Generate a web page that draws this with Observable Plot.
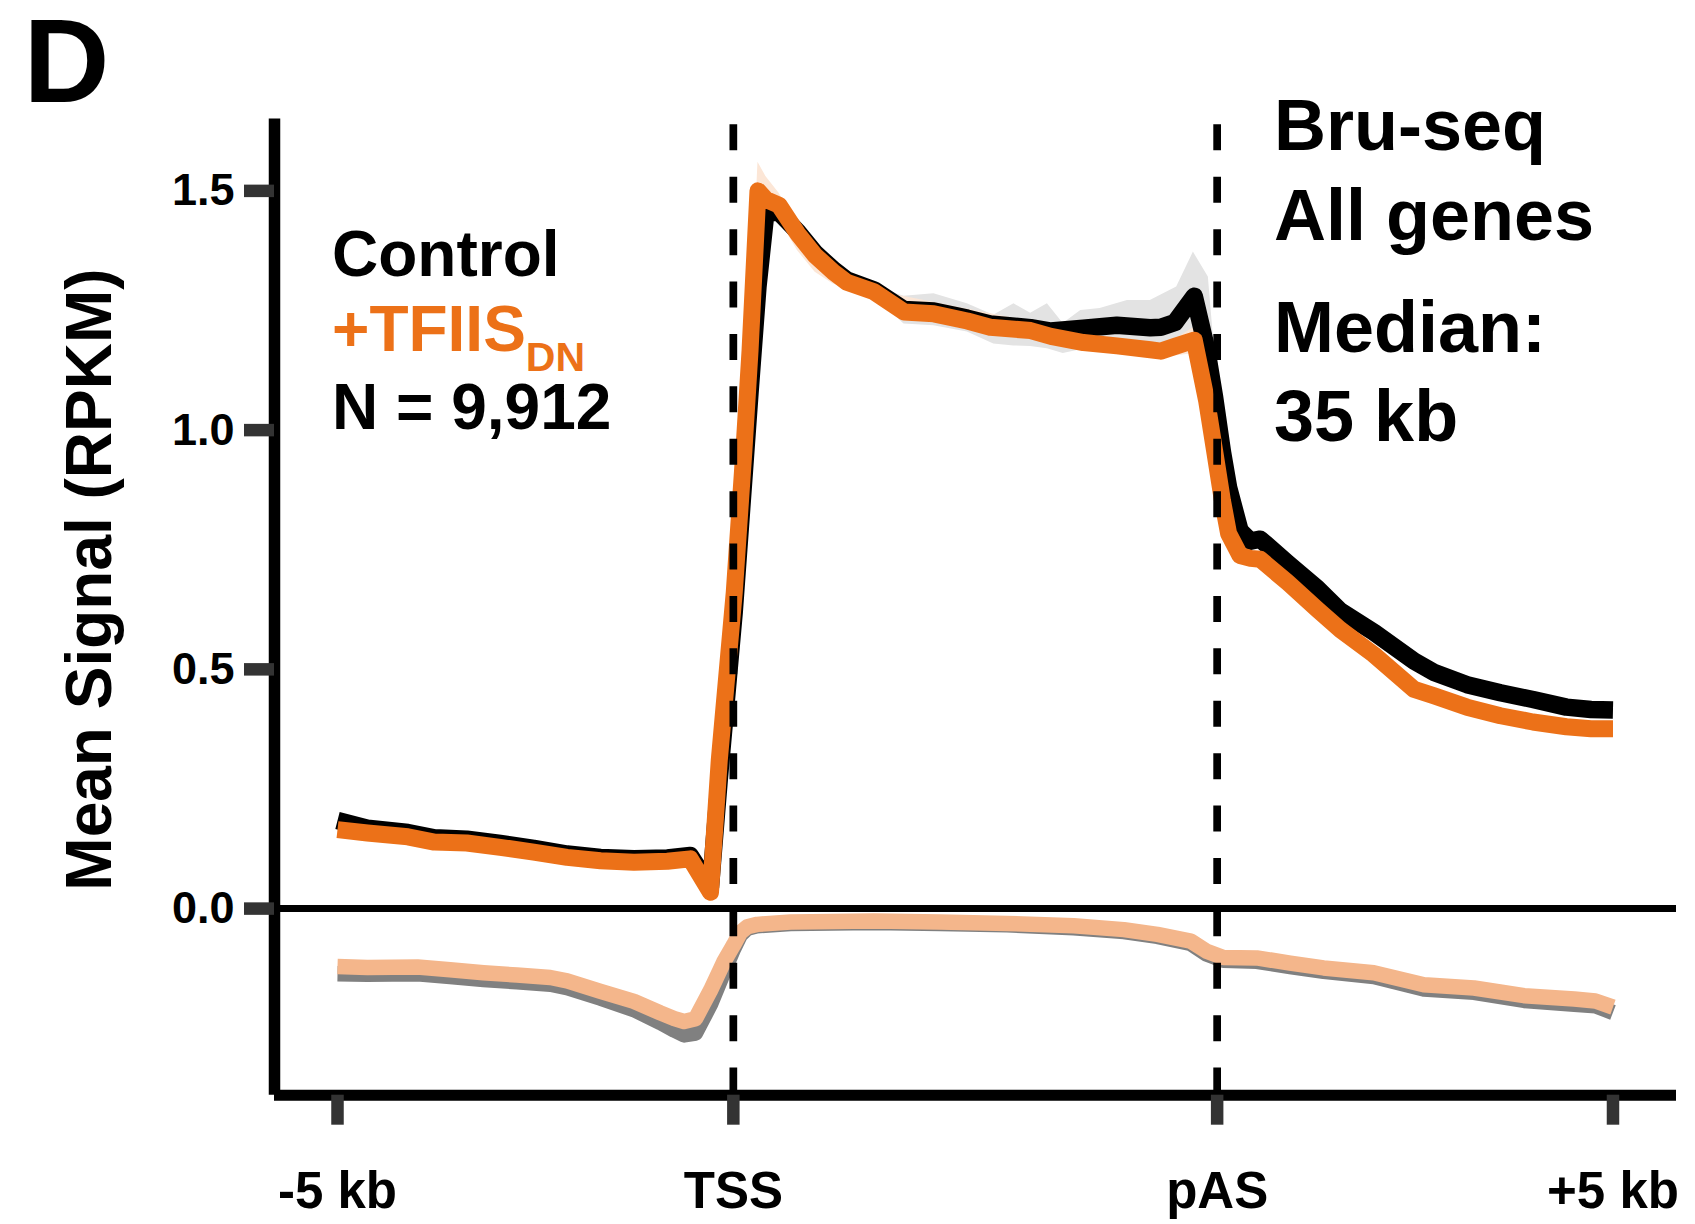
<!DOCTYPE html>
<html>
<head>
<meta charset="utf-8">
<script src="https://cdn.jsdelivr.net/npm/d3@7"></script>
<script src="https://cdn.jsdelivr.net/npm/@observablehq/plot@0.6"></script>
<style>
  html, body { margin: 0; padding: 0; background: #fff; }
  #chart { position: absolute; left: 0; top: 0; }
</style>
</head>
<body>
<div id="chart"></div>
<script>
// ---- data (bin positions: -5 kb = 0, TSS = 45, pAS = 100, +5 kb = 145) ----
const xTickBins = [0, 45, 100, 145];
const xTickLabels = ["-5 kb", "TSS", "pAS", "+5 kb"];
const yTicks = [0, 0.5, 1.0, 1.5];

const senseBins = [0, 3.4, 8.0, 11.0, 14.7, 18.5, 22.3, 26.1, 29.9, 33.7, 37.5, 40.1, 42.4, 43.4, 45.1, 46.2, 46.9, 47.8, 48.7, 50.2, 52.3, 54.3, 56.4, 57.9, 61.0, 64.4, 67.8, 71.6, 74.2, 78.8, 81.1, 84.8, 88.6, 92.4, 93.6, 95.2, 97.4, 98.8, 99.7, 100.6, 101.3, 102.6, 103.8, 104.9, 108.0, 111.4, 114.0, 117.8, 122.4, 124.6, 128.4, 132.2, 135.9, 139.7, 142.5, 145];
const controlSense = [0.184, 0.168, 0.159, 0.148, 0.145, 0.136, 0.126, 0.114, 0.107, 0.104, 0.106, 0.111, 0.045, 0.27, 0.62, 0.90, 1.08, 1.30, 1.455, 1.455, 1.415, 1.370, 1.335, 1.314, 1.293, 1.252, 1.249, 1.234, 1.222, 1.214, 1.207, 1.213, 1.219, 1.214, 1.215, 1.225, 1.280, 1.17, 1.07, 0.955, 0.88, 0.79, 0.768, 0.772, 0.722, 0.669, 0.622, 0.578, 0.517, 0.494, 0.468, 0.451, 0.437, 0.421, 0.416, 0.415];
const tfiisSense = [0.165, 0.158, 0.150, 0.139, 0.137, 0.128, 0.118, 0.107, 0.100, 0.097, 0.099, 0.104, 0.034, 0.31, 0.66, 0.957, 1.167, 1.500, 1.482, 1.470, 1.411, 1.365, 1.330, 1.309, 1.289, 1.247, 1.243, 1.228, 1.215, 1.208, 1.196, 1.183, 1.176, 1.168, 1.165, 1.175, 1.188, 1.062, 0.958, 0.853, 0.784, 0.738, 0.732, 0.730, 0.682, 0.625, 0.583, 0.531, 0.458, 0.445, 0.421, 0.403, 0.390, 0.380, 0.376, 0.376];

const antiBins = [0, 3.4, 9.1, 12.8, 16.6, 20.4, 24.2, 26.1, 29.9, 33.7, 36.7, 38.3, 39.4, 40.7, 42.4, 43.9, 45.0, 45.8, 46.6, 47.7, 51.5, 61.0, 68.5, 76.1, 83.7, 89.4, 93.2, 97.0, 98.8, 100.7, 104.5, 108.3, 112.1, 117.8, 123.5, 129.2, 134.9, 140.6, 143, 145];
const controlAnti = [-0.136, -0.137, -0.136, -0.142, -0.148, -0.153, -0.158, -0.165, -0.187, -0.211, -0.238, -0.254, -0.264, -0.260, -0.200, -0.133, -0.085, -0.055, -0.041, -0.036, -0.031, -0.029, -0.031, -0.034, -0.040, -0.048, -0.058, -0.073, -0.095, -0.108, -0.110, -0.121, -0.131, -0.142, -0.168, -0.175, -0.192, -0.200, -0.203, -0.217];
const tfiisAnti = [-0.121, -0.123, -0.122, -0.128, -0.134, -0.139, -0.144, -0.151, -0.173, -0.194, -0.218, -0.230, -0.236, -0.230, -0.171, -0.112, -0.077, -0.050, -0.038, -0.033, -0.028, -0.026, -0.028, -0.031, -0.036, -0.044, -0.054, -0.068, -0.089, -0.102, -0.103, -0.114, -0.124, -0.134, -0.159, -0.166, -0.182, -0.189, -0.193, -0.206];

// confidence bands
const ctrlBandBins = [50.2, 52.3, 57.9, 61.0, 64.4, 67.8, 71.6, 74.6, 76.9, 78.8, 80.7, 82.5, 84.5, 86.7, 89.8, 92.4, 95.4, 97.3, 99.0, 100.6];
const ctrlBandLo = [1.445, 1.405, 1.305, 1.280, 1.222, 1.218, 1.205, 1.180, 1.176, 1.175, 1.170, 1.160, 1.168, 1.174, 1.175, 1.170, 1.180, 1.200, 1.140, 0.940];
const ctrlBandHi = [1.465, 1.425, 1.325, 1.300, 1.280, 1.285, 1.264, 1.240, 1.264, 1.244, 1.264, 1.223, 1.250, 1.254, 1.271, 1.271, 1.299, 1.372, 1.320, 0.970];
const tfiisBandBins = [45.1, 46.9, 47.8, 48.7, 50.2, 52.3, 54.3, 56.4, 57.9, 61.0, 93.6, 95.2, 97.4, 98.8];
const tfiisBandLo = [0.64, 1.13, 1.45, 1.43, 1.44, 1.375, 1.330, 1.305, 1.298, 1.284, 1.150, 1.155, 1.160, 1.040];
const tfiisBandHi = [0.68, 1.20, 1.56, 1.53, 1.495, 1.428, 1.380, 1.345, 1.318, 1.292, 1.172, 1.190, 1.215, 1.085];

// ---- tables ----
const rows = (xs, ys) => xs.map((x, i) => ({x, y: ys[i]}));
const band = (xs, lo, hi) => xs.map((x, i) => ({x, lo: lo[i], hi: hi[i]}));

const ORANGE = "#EC7118";
const LIGHTORANGE = "#F4B68B";
const FONT = "'Liberation Sans', Arial, Helvetica, sans-serif";
const xMin = -7.162, xMax = 152.22, yMin = -0.39, yMax = 1.65;

const chart = Plot.plot({
  width: 1695,
  height: 1224,
  marginLeft: 274,
  marginRight: 19,
  marginTop: 118.6,
  marginBottom: 129.3,
  x: {domain: [xMin, xMax], axis: null},
  y: {domain: [yMin, yMax], axis: null},
  style: {fontFamily: FONT, background: "white", color: "black", overflow: "visible"},
  marks: [
    Plot.areaY(band(ctrlBandBins, ctrlBandLo, ctrlBandHi), {x: "x", y1: "lo", y2: "hi", fill: "#E3E3E3"}),
    Plot.areaY(band(tfiisBandBins, tfiisBandLo, tfiisBandHi), {x: "x", y1: "lo", y2: "hi", fill: "#FCE6D6"}),
    Plot.lineY(rows(antiBins, controlAnti), {x: "x", y: "y", stroke: "#808080", strokeWidth: 15.5, strokeLinecap: "butt", strokeLinejoin: "round"}),
    Plot.lineY(rows(antiBins, tfiisAnti), {x: "x", y: "y", stroke: LIGHTORANGE, strokeWidth: 15.5, strokeLinecap: "butt", strokeLinejoin: "round"}),
    Plot.lineY(rows(senseBins, controlSense), {x: "x", y: "y", stroke: "black", strokeWidth: 17.5, strokeLinecap: "butt", strokeLinejoin: "round"}),
    Plot.lineY(rows(senseBins, tfiisSense), {x: "x", y: "y", stroke: ORANGE, strokeWidth: 17, strokeLinecap: "butt", strokeLinejoin: "round"}),
    // zero line
    Plot.ruleY([0], {stroke: "black", strokeWidth: 7}),
    // TSS / pAS dashed markers
    Plot.ruleX([45, 100], {y1: 1.638, y2: yMin, stroke: "black", strokeWidth: 7.7, strokeDasharray: "26,26.4"}),
    // axis lines
    Plot.ruleX([xMin], {stroke: "black", strokeWidth: 11.5}),
    Plot.ruleY([yMin], {stroke: "black", strokeWidth: 11}),
    Plot.axisY(yTicks, {
      tickSize: 30, tickPadding: 10, stroke: "#333", strokeWidth: 12.5,
      fontSize: 45, fontWeight: "bold", fill: "black",
      tickFormat: d3.format(".1f"), label: null
    }),
    Plot.axisX(xTickBins, {
      tickSize: 30, tickPadding: 47, stroke: "#333", strokeWidth: 12.5,
      fontSize: 51, fontWeight: "bold", fill: "black",
      tickFormat: d => xTickLabels[xTickBins.indexOf(d)], label: null
    })
  ]
});

document.getElementById("chart").appendChild(chart);

// ---- annotation text ----
const svg = d3.select(chart);
const addText = (x, y, size, txt, color = "black") =>
  svg.append("text").attr("x", x).attr("y", y)
    .attr("text-anchor", "start")
    .attr("font-family", FONT).attr("font-weight", "bold")
    .attr("font-size", size).attr("fill", color).text(txt);

addText(23.5, 102, 119, "D");

svg.append("text")
  .attr("transform", "translate(111,579.5) rotate(-90)")
  .attr("text-anchor", "middle")
  .attr("font-family", FONT).attr("font-weight", "bold")
  .attr("font-size", 64).attr("fill", "black")
  .text("Mean Signal (RPKM)");

addText(332, 275.5, 64, "Control");
const t = svg.append("text").attr("x", 332).attr("y", 351)
  .attr("text-anchor", "start")
  .attr("font-family", FONT).attr("font-weight", "bold").attr("fill", ORANGE);
t.append("tspan").attr("font-size", 64).text("+TFIIS");
t.append("tspan").attr("font-size", 41).attr("dy", 20).text("DN");
addText(332, 428.6, 64, "N = 9,912");

addText(1274, 150, 72, "Bru-seq");
addText(1274, 240.4, 72, "All genes");
addText(1274, 352, 72, "Median:");
addText(1274, 441, 72, "35 kb");
</script>
</body>
</html>
